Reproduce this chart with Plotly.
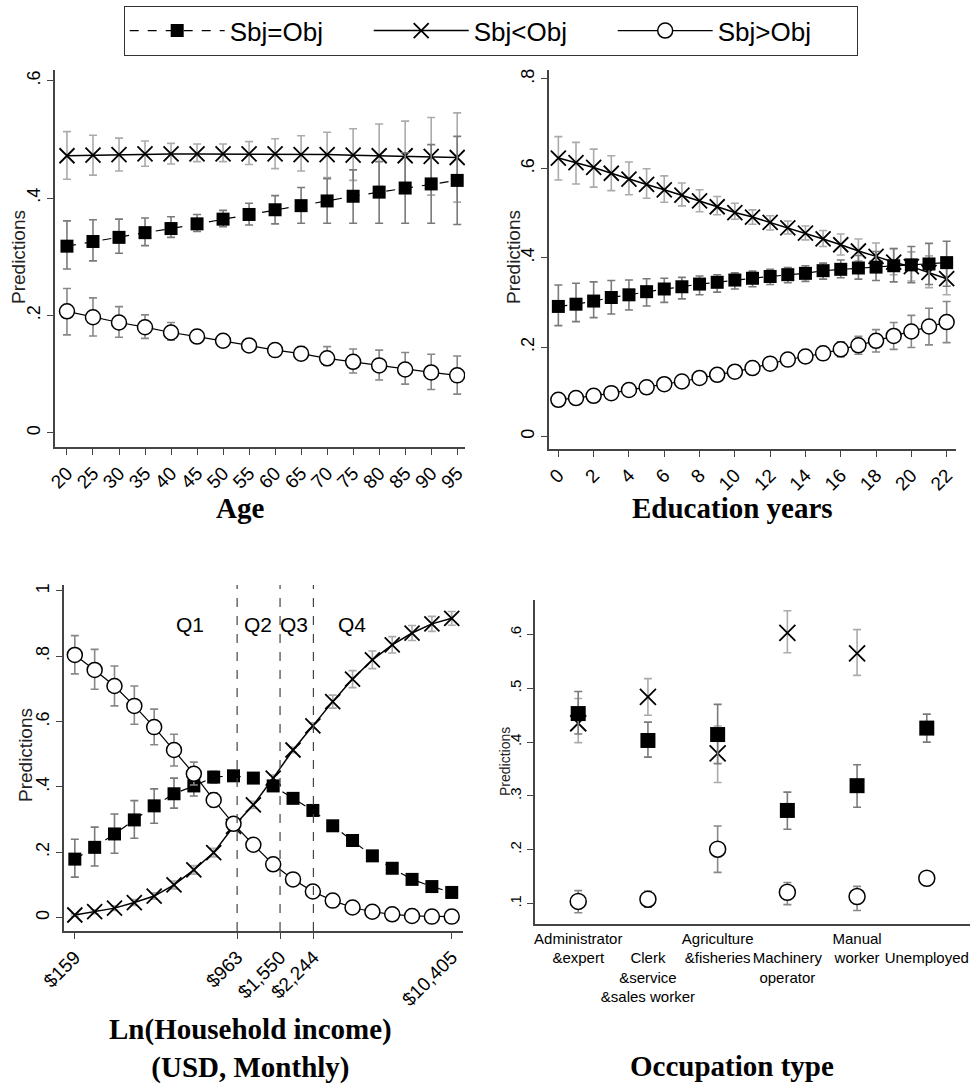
import numpy as np
import plotly.graph_objects as go

# ---------------- data ----------------
series_names = ["Sbj=Obj", "Sbj<Obj", "Sbj>Obj"]

# Age panel
age = [20, 25, 30, 35, 40, 45, 50, 55, 60, 65, 70, 75, 80, 85, 90, 95]
age_eq = [0.318, 0.326, 0.333, 0.341, 0.348, 0.356, 0.364, 0.372, 0.380, 0.387, 0.395, 0.403, 0.410, 0.417, 0.424, 0.430]
age_eq_lo = [0.279, 0.293, 0.306, 0.319, 0.333, 0.343, 0.351, 0.354, 0.356, 0.357, 0.357, 0.357, 0.357, 0.357, 0.357, 0.355]
age_eq_hi = [0.361, 0.363, 0.364, 0.366, 0.368, 0.372, 0.379, 0.391, 0.404, 0.418, 0.433, 0.448, 0.462, 0.477, 0.491, 0.505]
age_lt = [0.472, 0.473, 0.474, 0.475, 0.475, 0.475, 0.475, 0.475, 0.475, 0.474, 0.474, 0.473, 0.472, 0.472, 0.471, 0.469]
age_lt_lo = [0.432, 0.439, 0.446, 0.454, 0.458, 0.462, 0.462, 0.457, 0.450, 0.446, 0.435, 0.430, 0.420, 0.414, 0.405, 0.393]
age_lt_hi = [0.513, 0.507, 0.502, 0.497, 0.493, 0.492, 0.492, 0.496, 0.501, 0.506, 0.512, 0.518, 0.526, 0.531, 0.537, 0.545]
age_gt = [0.207, 0.197, 0.188, 0.180, 0.171, 0.164, 0.157, 0.149, 0.141, 0.135, 0.127, 0.121, 0.115, 0.108, 0.103, 0.098]
age_gt_lo = [0.167, 0.165, 0.163, 0.161, 0.158, 0.155, 0.148, 0.140, 0.131, 0.124, 0.115, 0.102, 0.090, 0.083, 0.074, 0.066]
age_gt_hi = [0.246, 0.230, 0.215, 0.201, 0.188, 0.175, 0.166, 0.158, 0.151, 0.147, 0.147, 0.143, 0.141, 0.137, 0.134, 0.131]

# Education panel
edu = [0, 1, 2, 3, 4, 5, 6, 7, 8, 9, 10, 11, 12, 13, 14, 15, 16, 17, 18, 19, 20, 21, 22]
edu_eq = [0.291, 0.296, 0.303, 0.311, 0.317, 0.324, 0.330, 0.335, 0.341, 0.345, 0.350, 0.354, 0.358, 0.362, 0.365, 0.371, 0.374, 0.377, 0.379, 0.382, 0.384, 0.386, 0.389]
edu_eq_lo = [0.248, 0.257, 0.266, 0.274, 0.283, 0.292, 0.300, 0.308, 0.317, 0.323, 0.330, 0.335, 0.340, 0.344, 0.347, 0.352, 0.355, 0.352, 0.349, 0.346, 0.344, 0.340, 0.336]
edu_eq_hi = [0.339, 0.343, 0.346, 0.349, 0.350, 0.353, 0.354, 0.356, 0.359, 0.362, 0.366, 0.370, 0.374, 0.378, 0.382, 0.388, 0.395, 0.405, 0.414, 0.420, 0.425, 0.432, 0.437]
edu_lt = [0.623, 0.613, 0.602, 0.589, 0.576, 0.564, 0.552, 0.540, 0.527, 0.514, 0.501, 0.491, 0.479, 0.467, 0.455, 0.442, 0.429, 0.415, 0.403, 0.390, 0.380, 0.367, 0.353]
edu_lt_lo = [0.574, 0.565, 0.558, 0.550, 0.541, 0.533, 0.524, 0.516, 0.503, 0.496, 0.486, 0.475, 0.462, 0.453, 0.440, 0.425, 0.406, 0.393, 0.378, 0.362, 0.348, 0.333, 0.317]
edu_lt_hi = [0.671, 0.658, 0.643, 0.628, 0.614, 0.599, 0.583, 0.567, 0.552, 0.537, 0.522, 0.507, 0.494, 0.482, 0.471, 0.461, 0.453, 0.442, 0.433, 0.421, 0.413, 0.404, 0.395]
edu_gt = [0.082, 0.086, 0.091, 0.097, 0.104, 0.110, 0.117, 0.123, 0.131, 0.138, 0.145, 0.153, 0.163, 0.172, 0.179, 0.186, 0.195, 0.204, 0.214, 0.225, 0.235, 0.246, 0.256]
edu_gt_lo = [0.072, 0.076, 0.081, 0.087, 0.094, 0.100, 0.107, 0.113, 0.121, 0.128, 0.135, 0.142, 0.151, 0.159, 0.165, 0.171, 0.178, 0.184, 0.189, 0.195, 0.199, 0.205, 0.210]
edu_gt_hi = [0.092, 0.096, 0.101, 0.107, 0.114, 0.120, 0.127, 0.133, 0.141, 0.148, 0.155, 0.164, 0.175, 0.185, 0.193, 0.201, 0.212, 0.224, 0.239, 0.255, 0.271, 0.287, 0.302]

# Household income panel (x = ln of monthly USD income)
inc_ln = [5.07, 5.29, 5.51, 5.73, 5.95, 6.17, 6.39, 6.61, 6.83, 7.05, 7.27, 7.49, 7.71, 7.93, 8.15, 8.37, 8.59, 8.81, 9.03, 9.25]
inc_eq = [0.179, 0.215, 0.256, 0.299, 0.342, 0.379, 0.403, 0.430, 0.434, 0.427, 0.403, 0.365, 0.328, 0.281, 0.236, 0.189, 0.151, 0.117, 0.095, 0.077]
inc_eq_lo = [0.124, 0.158, 0.197, 0.243, 0.289, 0.335, 0.372, 0.412, 0.420, 0.413, 0.390, 0.354, 0.318, 0.272, 0.228, 0.181, 0.144, 0.110, 0.088, 0.070]
inc_eq_hi = [0.240, 0.277, 0.317, 0.358, 0.394, 0.427, 0.447, 0.448, 0.448, 0.441, 0.416, 0.376, 0.338, 0.290, 0.244, 0.197, 0.158, 0.124, 0.102, 0.084]
inc_lt = [0.008, 0.018, 0.029, 0.046, 0.066, 0.100, 0.146, 0.199, 0.279, 0.345, 0.427, 0.513, 0.587, 0.661, 0.730, 0.789, 0.835, 0.871, 0.899, 0.916]
inc_lt_lo = [0.004, 0.012, 0.022, 0.037, 0.056, 0.088, 0.133, 0.186, 0.266, 0.334, 0.418, 0.505, 0.578, 0.641, 0.704, 0.762, 0.810, 0.848, 0.876, 0.895]
inc_lt_hi = [0.012, 0.024, 0.036, 0.055, 0.076, 0.112, 0.159, 0.212, 0.292, 0.356, 0.436, 0.521, 0.596, 0.681, 0.756, 0.816, 0.860, 0.894, 0.922, 0.937]
inc_gt = [0.804, 0.758, 0.709, 0.648, 0.583, 0.513, 0.440, 0.360, 0.287, 0.223, 0.163, 0.117, 0.080, 0.052, 0.031, 0.018, 0.010, 0.005, 0.003, 0.003]
inc_gt_lo = [0.746, 0.699, 0.648, 0.592, 0.529, 0.464, 0.406, 0.338, 0.272, 0.212, 0.155, 0.111, 0.075, 0.048, 0.028, 0.016, 0.008, 0.004, 0.002, 0.002]
inc_gt_hi = [0.863, 0.821, 0.770, 0.709, 0.638, 0.561, 0.476, 0.382, 0.302, 0.234, 0.171, 0.123, 0.085, 0.056, 0.034, 0.020, 0.012, 0.006, 0.004, 0.004]
inc_tick_usd = [159, 963, 1550, 2244, 10405]
inc_tick_text = ["$159", "$963", "$1,550", "$2,244", "$10,405"]
quartile_cuts_usd = [963, 1550, 2244]
quartile_labels = ["Q1", "Q2", "Q3", "Q4"]
quartile_label_ln = [6.345, 7.10, 7.50, 8.143]

# Occupation panel
occ = ["Administrator<br>&expert", "Clerk<br>&service<br>&sales worker", "Agriculture<br>&fisheries",
       "Machinery<br>operator", "Manual<br>worker", "Unemployed"]
occ_eq = [0.453, 0.403, 0.414, 0.273, 0.319, 0.426]
occ_eq_lo = [0.415, 0.372, 0.360, 0.238, 0.279, 0.400]
occ_eq_hi = [0.494, 0.437, 0.470, 0.307, 0.358, 0.452]
occ_lt = [0.435, 0.484, 0.379, 0.603, 0.565, None]
occ_lt_lo = [0.399, 0.450, 0.325, 0.566, 0.524, None]
occ_lt_hi = [0.481, 0.518, 0.430, 0.644, 0.609, None]
occ_gt = [0.104, 0.108, 0.201, 0.121, 0.113, 0.147]
occ_gt_lo = [0.083, 0.093, 0.158, 0.098, 0.087, 0.138]
occ_gt_hi = [0.124, 0.123, 0.244, 0.139, 0.132, 0.156]

# ---------------- styling ----------------
W, H = 972, 1084
SANS = "Liberation Sans, Arial, sans-serif"
SERIF = "Liberation Serif, Times New Roman, serif"
AX = "#444444"

STYLE = {
    "eq": dict(name=series_names[0], rank=1,
               marker=dict(symbol="square", size=13, color="black", line=dict(width=0)),
               line=dict(color="black", width=1.2, dash="dash"), bar="#7a7a7a"),
    "lt": dict(name=series_names[1], rank=2,
               marker=dict(symbol="x-thin", size=15, color="black", line=dict(width=1.8, color="black")),
               line=dict(color="black", width=1.5), bar="#ababab"),
    "gt": dict(name=series_names[2], rank=3,
               marker=dict(symbol="circle", size=15, color="white", line=dict(width=1.5, color="black")),
               line=dict(color="black", width=1.2), bar="#888888"),
}


def xd(a, b):
    return [a / W, b / W]


def yd(top, bottom):
    return [1 - bottom / H, 1 - top / H]


fig = go.Figure()


def add(kind, x, y, lo, hi, xa, ya, legend=False, lines=True, msize=None):
    st = STYLE[kind]
    up = [None if (v is None) else h - v for v, h in zip(y, hi)]
    dn = [None if (v is None) else v - l for v, l in zip(y, lo)]
    mk = dict(st["marker"])
    if msize:
        mk["size"] = msize
    fig.add_trace(go.Scatter(
        x=x, y=y, name=st["name"], legendrank=st["rank"], showlegend=legend,
        mode="lines+markers" if lines else "markers",
        marker=mk, line=st["line"],
        error_y=dict(type="data", symmetric=False, array=up, arrayminus=dn,
                     color=st["bar"], thickness=1.6, width=4),
        xaxis=xa, yaxis=ya, hoverinfo="x+y",
    ))


# Age (x1/y1)
add("lt", age, age_lt, age_lt_lo, age_lt_hi, "x", "y", legend=True)
add("eq", age, age_eq, age_eq_lo, age_eq_hi, "x", "y", legend=True)
add("gt", age, age_gt, age_gt_lo, age_gt_hi, "x", "y", legend=True)
# Education (x2/y2)
add("lt", edu, edu_lt, edu_lt_lo, edu_lt_hi, "x2", "y2")
add("eq", edu, edu_eq, edu_eq_lo, edu_eq_hi, "x2", "y2")
add("gt", edu, edu_gt, edu_gt_lo, edu_gt_hi, "x2", "y2")
# Income (x3/y3)
add("lt", inc_ln, inc_lt, inc_lt_lo, inc_lt_hi, "x3", "y3")
add("eq", inc_ln, inc_eq, inc_eq_lo, inc_eq_hi, "x3", "y3")
add("gt", inc_ln, inc_gt, inc_gt_lo, inc_gt_hi, "x3", "y3")
# Occupation (x4/y4)
occ_x = list(range(1, len(occ) + 1))
add("lt", occ_x, occ_lt, occ_lt_lo, occ_lt_hi, "x4", "y4", lines=False, msize=16)
add("eq", occ_x, occ_eq, occ_eq_lo, occ_eq_hi, "x4", "y4", lines=False, msize=15)
add("gt", occ_x, occ_gt, occ_gt_lo, occ_gt_hi, "x4", "y4", lines=False, msize=16)

base_axis = dict(showline=True, linecolor=AX, linewidth=1.5, ticks="outside", ticklen=6,
                 tickcolor=AX, tickwidth=1.3, showgrid=False, zeroline=False, automargin=False,
                 ticklabeloverflow="allow")

fig.update_layout(
    width=W, height=H, margin=dict(l=0, r=0, t=0, b=0),
    paper_bgcolor="white", plot_bgcolor="white",
    font=dict(family=SANS, color="black"),
    showlegend=True,
    legend=dict(orientation="h", x=491 / W, xanchor="center", y=1 - 6 / H, yanchor="top",
                font=dict(family=SANS, size=26, color="black"),
                bordercolor="#333", borderwidth=1.2, bgcolor="white",
                entrywidth=134, entrywidthmode="pixels", itemwidth=95),
    # Age
    xaxis=dict(base_axis, domain=xd(55, 465), range=[17.7, 96.5], anchor="y",
               tickvals=age, tickangle=-45, tickfont=dict(size=19, family=SANS)),
    yaxis=dict(base_axis, domain=yd(70, 447), range=[-0.024, 0.618], anchor="x",
               tickvals=[0, 0.2, 0.4, 0.6], ticktext=["0", ".2", ".4", ".6"], tickangle=-90,
               tickfont=dict(size=18, family=SANS)),
    # Education
    xaxis2=dict(base_axis, domain=xd(549, 956), range=[-0.53, 22.53], anchor="y2",
                tickvals=list(range(0, 23, 2)), tickangle=-45, tickfont=dict(size=19, family=SANS)),
    yaxis2=dict(base_axis, domain=yd(70, 449), range=[-0.028, 0.82], anchor="x2",
                tickvals=[0, 0.2, 0.4, 0.6, 0.8], ticktext=["0", ".2", ".4", ".6", ".8"], tickangle=-90,
                tickfont=dict(size=18, family=SANS)),
    # Income
    xaxis3=dict(base_axis, domain=xd(64, 463), range=[4.95, 9.375], anchor="y3",
                tickvals=list(np.log(inc_tick_usd)), ticktext=inc_tick_text, tickangle=-45,
                tickfont=dict(size=19, family=SANS)),
    yaxis3=dict(base_axis, domain=yd(585, 931), range=[-0.041, 1.018], anchor="x3",
                tickvals=[0, 0.2, 0.4, 0.6, 0.8, 1], ticktext=["0", ".2", ".4", ".6", ".8", "1"], tickangle=-90,
                tickfont=dict(size=18, family=SANS)),
    # Occupation
    xaxis4=dict(base_axis, domain=xd(535, 970), range=[0.38, 6.62], anchor="y4",
                tickvals=occ_x, ticktext=[(" <br>" + t) if i % 2 else t for i, t in enumerate(occ)],
                ticks="", tickangle=0, tickfont=dict(size=15, family=SANS)),
    yaxis4=dict(base_axis, domain=yd(600, 924), range=[0.062, 0.664], anchor="x4",
                tickvals=[0.1, 0.2, 0.3, 0.4, 0.5, 0.6], ticktext=[".1", ".2", ".3", ".4", ".5", ".6"],
                tickangle=-90, tickfont=dict(size=15, family=SANS)),
)

# y-axis titles ("Predictions") for each panel
ytitles = [(18, 257, 19), (513, 257, 19), (25, 755, 19), (505, 762, 14)]
for cx, cy, fs in ytitles:
    fig.add_annotation(x=cx / W, y=1 - cy / H, xref="paper", yref="paper", text="Predictions",
                       textangle=-90, showarrow=False, xanchor="center", yanchor="middle",
                       font=dict(family=SANS, size=fs, color="#222"))

# quartile cut lines on income panel
for cut in quartile_cuts_usd:
    fig.add_shape(type="line", xref="x3", yref="y3 domain", x0=np.log(cut), x1=np.log(cut), y0=0, y1=1,
                  line=dict(color="#444", width=1.2, dash="dash"))
for lab, xl in zip(quartile_labels, quartile_label_ln):
    fig.add_annotation(x=xl, y=0.896, xref="x3", yref="y3", text=lab, showarrow=False,
                       font=dict(family=SANS, size=21, color="black"))

# big axis titles
titles = [("Age", 240, 508), ("Education years", 732, 508),
          ("Ln(Household income)<br>(USD, Monthly)", 250, 1048), ("Occupation type", 732, 1066)]
for txt, cx, cy in titles:
    fig.add_annotation(x=cx / W, y=1 - cy / H, xref="paper", yref="paper", text="<b>" + txt + "</b>",
                       showarrow=False, xanchor="center", yanchor="middle",
                       font=dict(family=SERIF, size=29, color="black"))

fig.write_html("out.html", config={"displayModeBar": False},
               post_script="document.body.style.margin='0';document.body.style.overflow='hidden';")
